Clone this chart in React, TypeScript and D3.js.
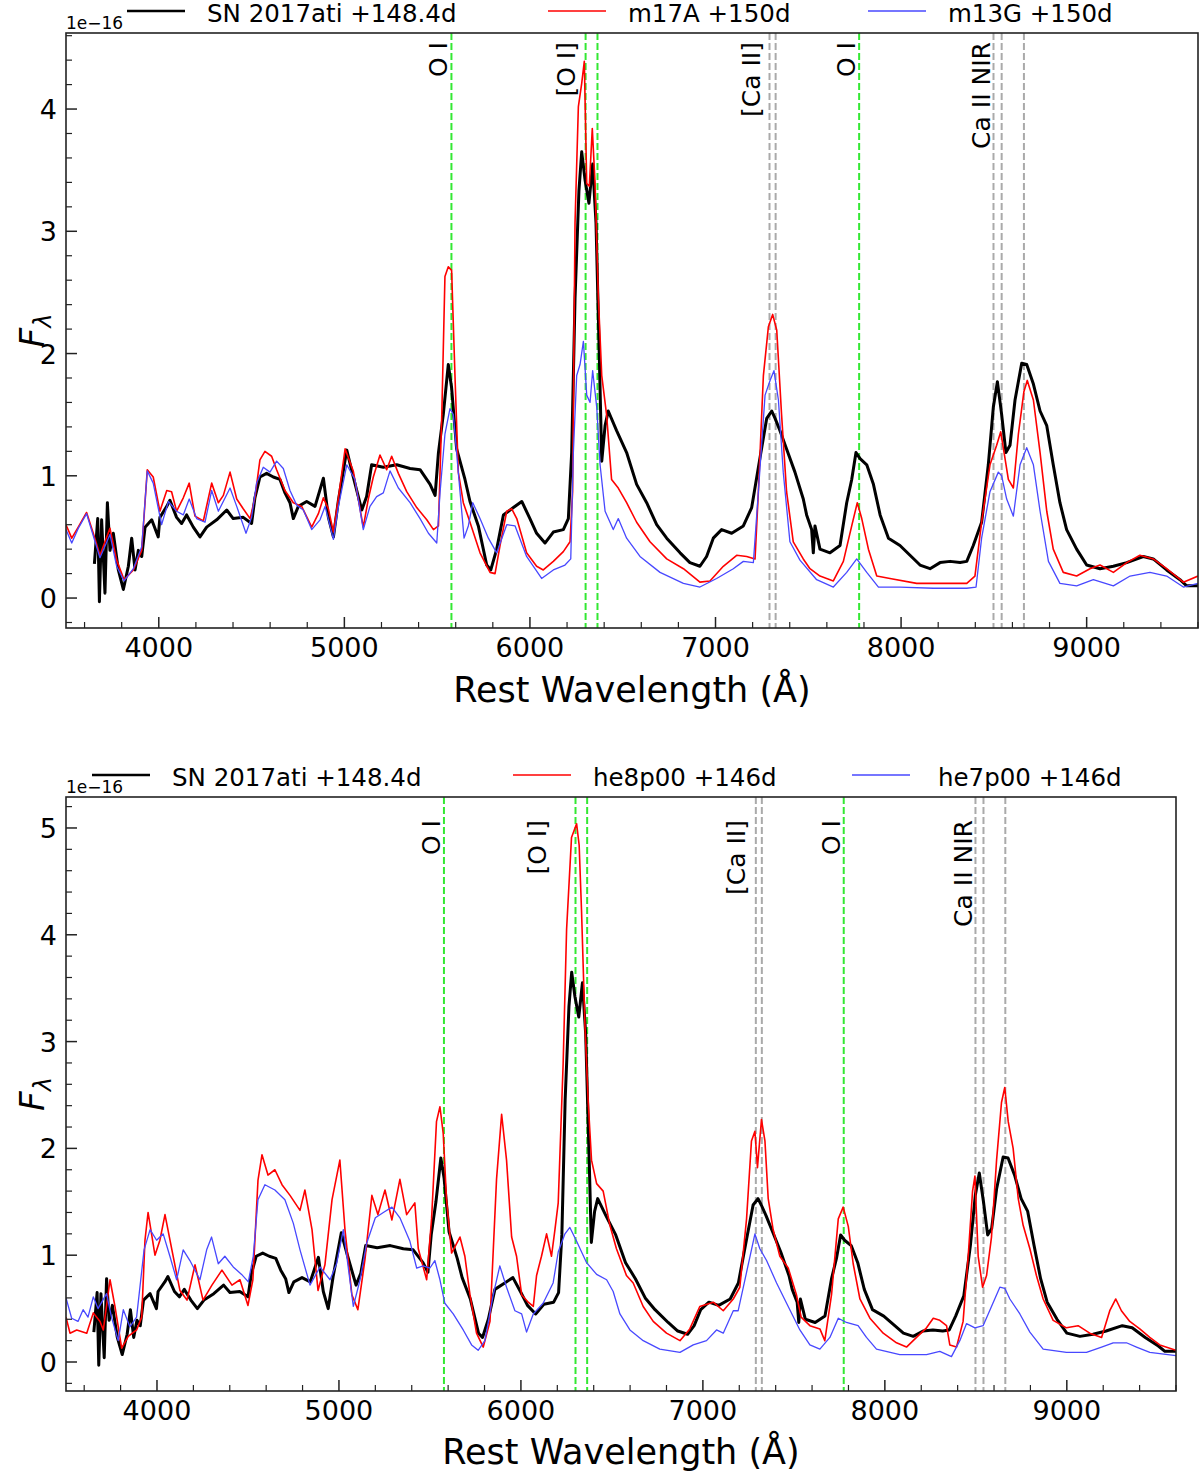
import React from 'react';
import * as d3 from 'd3';

type Pt = [number, number];

const sn2017ati: Pt[] = [
  [3653, 0.28], [3671, 0.65], [3680, -0.03], [3692, 0.64], [3710, 0.04], [3723, 0.78], [3737, 0.39],
  [3755, 0.53], [3782, 0.23], [3809, 0.07], [3836, 0.26], [3854, 0.49], [3872, 0.23], [3890, 0.39],
  [3908, 0.34], [3926, 0.58], [3962, 0.64], [3997, 0.5], [4006, 0.66], [4043, 0.75], [4060, 0.8],
  [4096, 0.66], [4123, 0.61], [4150, 0.68], [4186, 0.58], [4222, 0.5], [4258, 0.58], [4312, 0.64],
  [4366, 0.72], [4401, 0.65], [4455, 0.66], [4500, 0.61], [4518, 0.82], [4545, 0.99], [4581, 1.02],
  [4617, 0.99], [4653, 0.97], [4680, 0.86], [4707, 0.78], [4725, 0.65], [4752, 0.75], [4797, 0.79],
  [4842, 0.75], [4887, 0.98], [4914, 0.66], [4941, 0.5], [4968, 0.8], [5013, 1.21], [5048, 0.99],
  [5094, 0.72], [5120, 0.83], [5147, 1.09], [5210, 1.07], [5282, 1.09], [5354, 1.06], [5408, 1.05],
  [5462, 0.93], [5489, 0.84], [5507, 1.19], [5533, 1.5], [5560, 1.91], [5578, 1.72], [5605, 1.22],
  [5650, 0.97], [5677, 0.79], [5722, 0.59], [5767, 0.27], [5789, 0.23], [5821, 0.4], [5857, 0.68],
  [5911, 0.74], [5956, 0.79], [6000, 0.65], [6036, 0.53], [6081, 0.45], [6126, 0.54], [6180, 0.56],
  [6207, 0.65], [6225, 1.19], [6243, 2.45], [6264, 3.33], [6279, 3.65], [6297, 3.42], [6318, 3.23],
  [6338, 3.55], [6356, 3.07], [6374, 1.97], [6387, 1.12], [6405, 1.41], [6422, 1.53], [6467, 1.37],
  [6521, 1.19], [6575, 0.93], [6629, 0.78], [6683, 0.6], [6737, 0.49], [6809, 0.37], [6862, 0.29],
  [6916, 0.26], [6952, 0.34], [6988, 0.49], [7033, 0.56], [7087, 0.53], [7150, 0.59], [7195, 0.74],
  [7240, 1.15], [7276, 1.47], [7303, 1.53], [7321, 1.47], [7347, 1.37], [7383, 1.22], [7428, 1.03],
  [7473, 0.81], [7491, 0.68], [7518, 0.56], [7527, 0.37], [7536, 0.59], [7563, 0.4], [7617, 0.37],
  [7671, 0.43], [7707, 0.78], [7734, 0.97], [7757, 1.19], [7779, 1.14], [7815, 1.09], [7851, 0.93],
  [7887, 0.68], [7932, 0.49], [7994, 0.43], [8048, 0.35], [8102, 0.27], [8156, 0.24], [8210, 0.29],
  [8264, 0.3], [8318, 0.29], [8354, 0.3], [8389, 0.43], [8434, 0.62], [8470, 1.09], [8497, 1.56],
  [8519, 1.77], [8542, 1.5], [8565, 1.19], [8587, 1.25], [8614, 1.62], [8650, 1.92], [8677, 1.91],
  [8713, 1.75], [8749, 1.53], [8785, 1.41], [8820, 1.09], [8856, 0.78], [8892, 0.56], [8946, 0.4],
  [9000, 0.27], [9072, 0.24], [9144, 0.26], [9216, 0.29], [9305, 0.34], [9359, 0.32], [9431, 0.23],
  [9503, 0.15], [9539, 0.1], [9602, 0.1],
];

// m17A model +150d
const m17A: Pt[] = [
  [3500, 0.6], [3531, 0.49], [3566, 0.58], [3611, 0.7], [3647, 0.53], [3683, 0.35], [3737, 0.57],
  [3773, 0.31], [3813, 0.15], [3863, 0.23], [3908, 0.39], [3938, 1.05], [3970, 0.99], [4006, 0.71],
  [4043, 0.88], [4069, 0.87], [4096, 0.71], [4132, 0.82], [4164, 0.94], [4195, 0.67], [4240, 0.63],
  [4285, 0.94], [4321, 0.78], [4348, 0.84], [4384, 1.03], [4420, 0.81], [4455, 0.73], [4492, 0.65],
  [4518, 0.82], [4545, 1.13], [4572, 1.2], [4608, 1.16], [4635, 1.05], [4680, 0.88], [4725, 0.78],
  [4770, 0.75], [4824, 0.58], [4860, 0.69], [4887, 0.82], [4914, 0.73], [4941, 0.54], [4968, 0.82],
  [5004, 1.22], [5048, 1.04], [5102, 0.58], [5129, 0.81], [5156, 0.99], [5192, 1.17], [5228, 1.05],
  [5255, 1.16], [5291, 1.02], [5336, 0.87], [5390, 0.74], [5444, 0.64], [5480, 0.56], [5507, 0.59],
  [5525, 1.5], [5542, 2.63], [5560, 2.71], [5578, 2.68], [5596, 1.82], [5614, 1.03], [5641, 0.78],
  [5677, 0.62], [5731, 0.37], [5785, 0.21], [5812, 0.2], [5839, 0.43], [5875, 0.71], [5902, 0.73],
  [5929, 0.65], [5982, 0.37], [6036, 0.26], [6072, 0.23], [6126, 0.3], [6180, 0.38], [6216, 0.46],
  [6230, 0.87], [6243, 3.07], [6261, 4.02], [6279, 4.21], [6293, 4.39], [6306, 3.39], [6320, 3.37],
  [6336, 3.84], [6351, 3.39], [6369, 2.45], [6387, 1.82], [6413, 1.5], [6440, 0.97], [6476, 0.9],
  [6521, 0.78], [6575, 0.62], [6647, 0.46], [6737, 0.32], [6827, 0.24], [6916, 0.13], [6970, 0.14],
  [7042, 0.26], [7114, 0.35], [7168, 0.34], [7213, 0.32], [7231, 0.87], [7258, 1.82], [7285, 2.22],
  [7308, 2.32], [7330, 2.19], [7356, 1.5], [7383, 0.87], [7419, 0.46], [7473, 0.32], [7509, 0.24],
  [7563, 0.18], [7635, 0.14], [7689, 0.3], [7734, 0.59], [7764, 0.78], [7788, 0.65], [7824, 0.4],
  [7869, 0.18], [7940, 0.16], [8084, 0.12], [8228, 0.12], [8354, 0.12], [8398, 0.18], [8434, 0.62],
  [8479, 1.09], [8515, 1.25], [8537, 1.36], [8555, 1.19], [8578, 0.97], [8605, 0.9], [8632, 1.34],
  [8662, 1.69], [8680, 1.78], [8713, 1.62], [8749, 1.19], [8785, 0.71], [8820, 0.4], [8874, 0.21],
  [8946, 0.18], [9018, 0.24], [9072, 0.27], [9144, 0.21], [9216, 0.29], [9287, 0.35], [9359, 0.32],
  [9431, 0.24], [9521, 0.13], [9600, 0.18],
];

// m13G model +150d
const m13G: Pt[] = [
  [3500, 0.56], [3531, 0.45], [3566, 0.57], [3611, 0.69], [3647, 0.51], [3683, 0.33], [3737, 0.52],
  [3773, 0.26], [3813, 0.14], [3863, 0.24], [3908, 0.42], [3938, 1.04], [3970, 0.94], [4015, 0.6],
  [4052, 0.79], [4096, 0.71], [4132, 0.68], [4164, 0.81], [4204, 0.65], [4249, 0.62], [4285, 0.88],
  [4321, 0.71], [4384, 0.9], [4420, 0.75], [4470, 0.53], [4500, 0.66], [4527, 0.94], [4563, 1.07],
  [4599, 1.03], [4635, 1.12], [4671, 1.06], [4707, 0.88], [4743, 0.76], [4779, 0.72], [4824, 0.56],
  [4869, 0.64], [4896, 0.75], [4941, 0.48], [4968, 0.75], [5013, 1.09], [5057, 0.97], [5102, 0.56],
  [5138, 0.75], [5174, 0.83], [5210, 0.86], [5246, 1.04], [5291, 0.9], [5354, 0.78], [5408, 0.65],
  [5453, 0.53], [5498, 0.45], [5516, 0.87], [5542, 1.34], [5569, 1.55], [5587, 1.5], [5614, 1.03],
  [5645, 0.49], [5668, 0.59], [5692, 0.78], [5731, 0.65], [5776, 0.49], [5821, 0.37], [5875, 0.6],
  [5920, 0.59], [5982, 0.34], [6063, 0.16], [6126, 0.23], [6189, 0.27], [6220, 0.32], [6234, 1.19],
  [6252, 1.82], [6270, 1.91], [6288, 2.1], [6306, 1.66], [6324, 1.6], [6338, 1.86], [6360, 1.56],
  [6378, 1.09], [6405, 0.71], [6449, 0.56], [6476, 0.65], [6521, 0.49], [6593, 0.34], [6701, 0.21],
  [6827, 0.12], [6916, 0.09], [7006, 0.16], [7096, 0.24], [7150, 0.3], [7204, 0.29], [7231, 0.87],
  [7267, 1.66], [7294, 1.78], [7315, 1.86], [7339, 1.62], [7365, 1.03], [7401, 0.46], [7455, 0.31],
  [7545, 0.15], [7635, 0.09], [7707, 0.21], [7761, 0.32], [7815, 0.21], [7878, 0.09], [7994, 0.09],
  [8174, 0.08], [8354, 0.08], [8404, 0.09], [8434, 0.49], [8479, 0.87], [8524, 1.03], [8542, 1.0],
  [8569, 0.81], [8605, 0.67], [8641, 1.09], [8677, 1.23], [8713, 1.09], [8749, 0.71], [8794, 0.3],
  [8856, 0.12], [8946, 0.1], [9036, 0.15], [9144, 0.1], [9234, 0.18], [9341, 0.21], [9431, 0.18],
  [9521, 0.09], [9600, 0.12],
];

// he8p00 model +146d
const he8p00: Pt[] = [
  [3500, 0.42], [3522, 0.27], [3559, 0.3], [3614, 0.27], [3650, 0.46], [3687, 0.38], [3705, 0.3],
  [3742, 0.77], [3769, 0.52], [3806, 0.13], [3842, 0.24], [3888, 0.3], [3916, 0.42], [3934, 1.14],
  [3951, 1.4], [3989, 1.0], [4016, 1.14], [4044, 1.38], [4082, 1.05], [4126, 0.67], [4165, 0.58],
  [4209, 0.91], [4253, 0.58], [4302, 0.72], [4357, 0.86], [4412, 0.72], [4456, 0.77], [4500, 0.53],
  [4527, 0.77], [4555, 1.7], [4577, 1.94], [4610, 1.75], [4648, 1.8], [4687, 1.66], [4731, 1.56],
  [4786, 1.42], [4813, 1.61], [4852, 1.24], [4885, 0.67], [4923, 0.91], [4962, 1.52], [5005, 1.89],
  [5033, 1.24], [5071, 0.63], [5104, 0.49], [5143, 0.96], [5181, 1.56], [5214, 1.38], [5253, 1.61],
  [5291, 1.33], [5335, 1.71], [5372, 1.38], [5417, 1.49], [5436, 1.06], [5482, 0.77], [5509, 1.34],
  [5536, 2.25], [5555, 2.39], [5573, 2.14], [5591, 1.53], [5619, 1.02], [5665, 1.17], [5692, 0.99],
  [5720, 0.63], [5756, 0.27], [5793, 0.14], [5830, 0.38], [5866, 1.71], [5894, 2.32], [5921, 1.89],
  [5949, 1.17], [5976, 0.99], [6004, 0.63], [6040, 0.56], [6068, 0.52], [6086, 0.81], [6113, 0.99],
  [6141, 1.2], [6168, 0.99], [6187, 1.24], [6205, 1.49], [6232, 2.79], [6251, 4.05], [6278, 4.91],
  [6306, 5.04], [6320, 4.84], [6333, 4.23], [6352, 3.15], [6370, 2.43], [6388, 1.89], [6416, 1.67],
  [6452, 1.6], [6489, 1.28], [6525, 1.06], [6580, 0.81], [6617, 0.74], [6672, 0.52], [6727, 0.38],
  [6800, 0.27], [6874, 0.2], [6928, 0.31], [6983, 0.52], [7057, 0.56], [7112, 0.48], [7167, 0.59],
  [7203, 0.7], [7240, 1.34], [7267, 2.07], [7286, 2.16], [7300, 1.82], [7322, 2.27], [7341, 2.07],
  [7359, 1.53], [7386, 1.24], [7423, 0.99], [7469, 0.88], [7514, 0.63], [7540, 0.42], [7588, 0.34],
  [7643, 0.31], [7670, 0.2], [7707, 0.63], [7744, 1.34], [7771, 1.45], [7799, 1.27], [7826, 0.92],
  [7863, 0.59], [7918, 0.41], [7991, 0.27], [8064, 0.18], [8119, 0.14], [8174, 0.23], [8229, 0.32],
  [8266, 0.41], [8302, 0.39], [8339, 0.34], [8357, 0.16], [8394, 0.14], [8430, 0.38], [8458, 0.99],
  [8482, 1.6], [8495, 1.74], [8513, 0.99], [8537, 0.7], [8559, 0.81], [8586, 1.17], [8614, 1.89],
  [8641, 2.43], [8659, 2.57], [8678, 2.25], [8705, 2.0], [8733, 1.53], [8760, 1.28], [8797, 1.06],
  [8833, 0.81], [8870, 0.59], [8925, 0.39], [8998, 0.32], [9062, 0.34], [9126, 0.27], [9191, 0.23],
  [9236, 0.48], [9269, 0.59], [9300, 0.48], [9346, 0.38], [9401, 0.31], [9456, 0.23], [9511, 0.16],
  [9600, 0.11],
];

// he7p00 model +146d
const he7p00: Pt[] = [
  [3500, 0.6], [3531, 0.41], [3566, 0.38], [3594, 0.49], [3621, 0.42], [3650, 0.61], [3676, 0.5],
  [3723, 0.64], [3750, 0.42], [3787, 0.2], [3815, 0.49], [3851, 0.33], [3888, 0.42], [3929, 1.05],
  [3962, 1.24], [3998, 1.14], [4034, 1.2], [4071, 0.99], [4108, 0.77], [4144, 1.05], [4181, 0.95],
  [4236, 0.77], [4273, 1.05], [4300, 1.17], [4337, 0.92], [4373, 0.99], [4419, 0.89], [4465, 0.82],
  [4502, 0.75], [4529, 0.99], [4555, 1.52], [4593, 1.66], [4648, 1.61], [4703, 1.52], [4749, 1.3],
  [4786, 1.05], [4841, 0.72], [4896, 0.89], [4951, 0.77], [4987, 0.92], [5024, 1.24], [5079, 0.52],
  [5116, 0.77], [5152, 1.11], [5200, 1.35], [5244, 1.4], [5291, 1.45], [5335, 1.35], [5390, 1.13],
  [5427, 0.88], [5463, 0.9], [5500, 0.88], [5527, 0.95], [5555, 0.77], [5582, 0.55], [5628, 0.45],
  [5683, 0.3], [5729, 0.16], [5765, 0.11], [5802, 0.2], [5848, 0.63], [5884, 0.9], [5921, 0.7],
  [5967, 0.48], [6004, 0.45], [6031, 0.28], [6068, 0.45], [6122, 0.55], [6177, 0.74], [6205, 1.03],
  [6242, 1.2], [6269, 1.26], [6306, 1.13], [6361, 0.93], [6416, 0.82], [6471, 0.77], [6507, 0.66],
  [6544, 0.45], [6599, 0.3], [6672, 0.2], [6763, 0.12], [6874, 0.09], [6947, 0.16], [7020, 0.2],
  [7075, 0.3], [7112, 0.27], [7167, 0.48], [7194, 0.48], [7240, 0.84], [7286, 1.2], [7313, 1.06],
  [7350, 0.95], [7405, 0.74], [7460, 0.55], [7533, 0.3], [7588, 0.16], [7643, 0.12], [7698, 0.23],
  [7744, 0.41], [7789, 0.37], [7853, 0.34], [7899, 0.23], [7954, 0.12], [8082, 0.07], [8229, 0.07],
  [8302, 0.1], [8366, 0.05], [8412, 0.2], [8449, 0.36], [8495, 0.32], [8540, 0.34], [8586, 0.52],
  [8632, 0.7], [8659, 0.69], [8687, 0.59], [8742, 0.45], [8797, 0.28], [8870, 0.12], [8998, 0.09],
  [9108, 0.09], [9191, 0.14], [9255, 0.18], [9328, 0.18], [9383, 0.14], [9456, 0.09], [9600, 0.06],
];

// line identifications (Å)
const oxygenLines = [5577, 6300, 6364, 7774];
const calciumLines = [7291, 7324, 8498, 8542, 8662];

const xTicks = [4000, 5000, 6000, 7000, 8000, 9000];
const topYTicks = [0, 1, 2, 3, 4];
const bottomYTicks = [0, 1, 2, 3, 4, 5];

const FONT = "'DejaVu Sans', sans-serif";

interface LegendItem { name: string; color: string; width: number; start: number; textX: number; }
interface LineLabel { text: string; wave: number; dx: number; }
interface PanelCfg {
  id: string;
  left: number; right: number; top: number; bottom: number;
  yDomain: [number, number];
  yTicks: number[];
  red: Pt[]; blue: Pt[];
  legend: LegendItem[];
  labels: LineLabel[];
  labelTop: number;
  xTitleY: number;
}

const panels: PanelCfg[] = [
  {
    id: 'top', left: 66, right: 1198, top: 33, bottom: 628,
    yDomain: [-0.245, 4.622], yTicks: topYTicks,
    red: m17A, blue: m13G,
    legend: [
      { name: 'SN 2017ati +148.4d', color: '#000', width: 2.5, start: 127, textX: 207 },
      { name: 'm17A +150d', color: 'red', width: 1.6, start: 548, textX: 628 },
      { name: 'm13G +150d', color: '#4848ff', width: 1.3, start: 868, textX: 948 },
    ],
    labels: [
      { text: 'O I', wave: 5577, dx: -4 },
      { text: '[O I]', wave: 6300, dx: -11 },
      { text: '[Ca II]', wave: 7291, dx: -10 },
      { text: 'O I', wave: 7774, dx: -4 },
      { text: 'Ca II NIR', wave: 8498, dx: -3 },
    ],
    labelTop: 42, xTitleY: 702,
  },
  {
    id: 'bottom', left: 66, right: 1176, top: 797, bottom: 1391,
    yDomain: [-0.2715, 5.29], yTicks: bottomYTicks,
    red: he8p00, blue: he7p00,
    legend: [
      { name: 'SN 2017ati +148.4d', color: '#000', width: 2.5, start: 92, textX: 172 },
      { name: 'he8p00 +146d', color: 'red', width: 1.6, start: 513, textX: 593 },
      { name: 'he7p00 +146d', color: '#4848ff', width: 1.3, start: 852, textX: 938 },
    ],
    labels: [
      { text: 'O I', wave: 5577, dx: -4 },
      { text: '[O I]', wave: 6300, dx: -30 },
      { text: '[Ca II]', wave: 7291, dx: -11 },
      { text: 'O I', wave: 7774, dx: -4 },
      { text: 'Ca II NIR', wave: 8498, dx: -3 },
    ],
    labelTop: 820, xTitleY: 1464,
  },
];

const Panel = ({ cfg }: { cfg: PanelCfg }) => {
  const x = d3.scaleLinear().domain([3500, 9600]).range([cfg.left, cfg.right]);
  const y = d3.scaleLinear().domain(cfg.yDomain).range([cfg.bottom, cfg.top]);
  const line = d3.line<Pt>().x(d => x(d[0])).y(d => y(d[1]));

  const minorX = d3.range(3600, 9601, 200).filter(v => v % 1000 !== 0);
  const minorY = d3.range(-1, Math.floor(cfg.yDomain[1] * 5) + 1)
    .map(i => i / 5)
    .filter(v => v >= cfg.yDomain[0] && v % 1 !== 0);

  const legendLineY = cfg.top - 22;
  const clip = `clip-${cfg.id}`;

  return (
    <g>
      <defs>
        <clipPath id={clip}>
          <rect x={cfg.left} y={cfg.top} width={cfg.right - cfg.left} height={cfg.bottom - cfg.top} />
        </clipPath>
      </defs>

      {/* line identifications */}
      <g clipPath={`url(#${clip})`}>
        {oxygenLines.map(w => (
          <line key={`o${w}`} x1={x(w)} x2={x(w)} y1={cfg.top} y2={cfg.bottom}
            stroke="#33e833" strokeWidth={2} strokeDasharray="7,3" />
        ))}
        {calciumLines.map(w => (
          <line key={`c${w}`} x1={x(w)} x2={x(w)} y1={cfg.top} y2={cfg.bottom}
            stroke="#aaaaaa" strokeWidth={2} strokeDasharray="7,3" />
        ))}
      </g>

      {/* spectra */}
      <g clipPath={`url(#${clip})`} fill="none" strokeLinejoin="round">
        <path d={line(sn2017ati) ?? ''} stroke="#000" strokeWidth={3} />
        <path d={line(cfg.red) ?? ''} stroke="red" strokeWidth={1.6} />
        <path d={line(cfg.blue) ?? ''} stroke="#4848ff" strokeWidth={1.3} />
      </g>

      {cfg.labels.map((l, i) => (
        <text key={i} transform={`translate(${x(l.wave) + l.dx},${cfg.labelTop}) rotate(-90)`}
          textAnchor="end" fontFamily={FONT} fontSize={25} fill="#000">{l.text}</text>
      ))}

      {/* ticks */}
      {xTicks.map(t => (
        <g key={`xt${t}`}>
          <line x1={x(t)} x2={x(t)} y1={cfg.bottom} y2={cfg.bottom - 11} stroke="#222" strokeWidth={1.5} />
          <text x={x(t)} y={cfg.bottom + 29} textAnchor="middle" fontFamily={FONT} fontSize={27}>{t}</text>
        </g>
      ))}
      {minorX.map(t => (
        <line key={`xm${t}`} x1={x(t)} x2={x(t)} y1={cfg.bottom} y2={cfg.bottom - 6} stroke="#222" strokeWidth={1.2} />
      ))}
      {cfg.yTicks.map(t => (
        <g key={`yt${t}`}>
          <line x1={cfg.left} x2={cfg.left + 11} y1={y(t)} y2={y(t)} stroke="#222" strokeWidth={1.5} />
          <text x={cfg.left - 9} y={y(t) + 10} textAnchor="end" fontFamily={FONT} fontSize={27}>{t}</text>
        </g>
      ))}
      {minorY.map(t => (
        <line key={`ym${t}`} x1={cfg.left} x2={cfg.left + 6} y1={y(t)} y2={y(t)} stroke="#222" strokeWidth={1.2} />
      ))}

      <rect x={cfg.left} y={cfg.top} width={cfg.right - cfg.left} height={cfg.bottom - cfg.top}
        fill="none" stroke="#222" strokeWidth={1.6} />

      <text x={cfg.left} y={cfg.top - 4} fontFamily={FONT} fontSize={17}>1e−16</text>

      {/* axis titles */}
      <text x={(cfg.left + cfg.right) / 2} y={cfg.xTitleY} textAnchor="middle" fontFamily={FONT} fontSize={35}>
        Rest Wavelength (Å)
      </text>
      <text transform={`translate(44,${(cfg.top + cfg.bottom) / 2}) rotate(-90)`} textAnchor="middle"
        fontFamily={FONT} fontSize={34} fontStyle="italic">
        F<tspan fontSize={24} dy={7}>λ</tspan>
      </text>

      {/* legend */}
      {cfg.legend.map(item => (
        <g key={item.name}>
          <line x1={item.start} x2={item.start + 58} y1={legendLineY} y2={legendLineY}
            stroke={item.color} strokeWidth={item.width} />
          <text x={item.textX} y={legendLineY + 10.5} fontFamily={FONT} fontSize={24.5}>{item.name}</text>
        </g>
      ))}
    </g>
  );
};

export default function App() {
  return (
    <svg width={1200} height={1472} viewBox="0 0 1200 1472"
      style={{ position: 'absolute', left: 0, top: 0, background: '#fff' }}>
      <rect x={0} y={0} width={1200} height={1472} fill="#fff" />
      {panels.map(p => <Panel key={p.id} cfg={p} />)}
    </svg>
  );
}
